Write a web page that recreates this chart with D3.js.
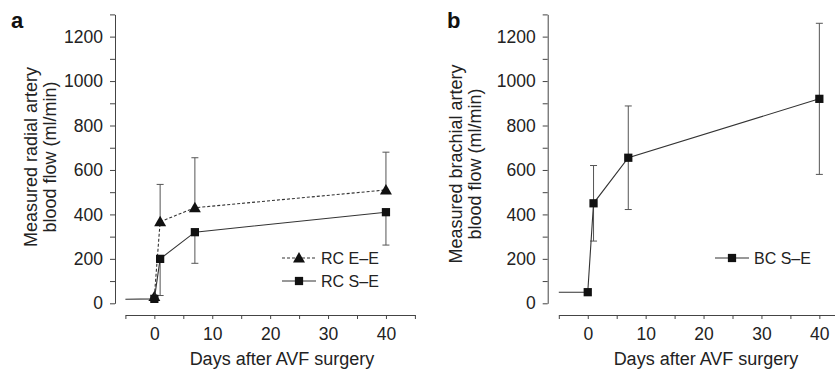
<!DOCTYPE html>
<html>
<head>
<meta charset="utf-8">
<script src="https://cdn.jsdelivr.net/npm/d3@7"></script>
<style>
  body { margin: 0; background: #fff; }
  svg { display: block; font-family: "Liberation Sans", Arial, sans-serif; }
  .axis text { font-size: 17.5px; fill: #222; }
  .axis path, .axis line { stroke: #444; stroke-width: 1; }
</style>
</head>
<body>
<div id="chart"></div>
<script>
// values (ml/min)
const days = [0, 1, 7, 40];
const preDay = -5;

const rcEE = [30, 367, 430, 510];
const rcEEErr = [0, 168, 225, 170];      // upward bars only
const rcSE = [20, 200, 320, 410];
const rcSEErr = [0, 165, 140, 148];      // downward bars only
const rcPre = 18;

const bcSE = [50, 450, 655, 920];
const bcSEErr = [0, 170, 233, 340];      // both directions
const bcPre = 50;

const yTicks = d3.range(0, 1301, 100);
const yLabels = [0, 200, 400, 600, 800, 1000, 1200];
const xTicks = d3.range(-5, 46, 5);
const xLabels = [0, 10, 20, 30, 40];

const W = 835, H = 369;
const svg = d3.select('#chart').append('svg').attr('width', W).attr('height', H);

function drawPanel(opts) {
  const g = svg.append('g');
  const x = d3.scaleLinear().domain([-5, 45]).range(opts.xRange);
  const y = d3.scaleLinear().domain([0, 1300]).range([303.3, 14.4]);

  g.append('g')
    .attr('class', 'axis')
    .attr('transform', `translate(${opts.yAxisX},0)`)
    .call(d3.axisLeft(y).tickValues(yTicks).tickSize(5).tickSizeOuter(0).tickPadding(7)
      .tickFormat(d => yLabels.includes(d) ? d : ''));

  g.append('g')
    .attr('class', 'axis')
    .attr('transform', 'translate(0,315)')
    .call(d3.axisBottom(x).tickValues(xTicks).tickSize(4).tickSizeOuter(0).tickPadding(9)
      .tickFormat(d => xLabels.includes(d) ? d : ''));

  // axis titles
  g.append('text')
    .attr('x', opts.xTitleX).attr('y', 365)
    .attr('text-anchor', 'middle')
    .attr('font-size', 18).attr('fill', '#222')
    .text('Days after AVF surgery');

  const yt = g.append('text')
    .attr('transform', `translate(${opts.yTitleX},${opts.yTitleY}) rotate(-90)`)
    .attr('text-anchor', 'middle')
    .attr('font-size', 18).attr('fill', '#222');
  yt.append('tspan').attr('x', 0).attr('dy', 0).text(opts.yTitle[0]);
  yt.append('tspan').attr('x', 0).attr('dy', 19).text(opts.yTitle[1]);

  g.append('text')
    .attr('x', opts.labelX).attr('y', 28)
    .attr('font-size', 22).attr('font-weight', 'bold').attr('fill', '#111')
    .text(opts.label);

  opts.series.forEach(s => {
    const pts = days.map((d, i) => ({ d: d, v: s.values[i], e: s.err[i] }));
    const linePts = s.pre != null ? [{ d: preDay, v: s.pre }].concat(pts) : pts;

    // error bars
    pts.filter(p => p.e > 0).forEach(p => {
      const lo = s.dir === 'up' ? p.v : p.v - p.e;
      const hi = s.dir === 'down' ? p.v : p.v + p.e;
      g.append('line')
        .attr('x1', x(p.d)).attr('x2', x(p.d))
        .attr('y1', y(lo)).attr('y2', y(hi))
        .attr('stroke', '#555').attr('stroke-width', 1);
      const caps = s.dir === 'up' ? [hi] : s.dir === 'down' ? [lo] : [lo, hi];
      caps.forEach(c => {
        g.append('line')
          .attr('x1', x(p.d) - 3.5).attr('x2', x(p.d) + 3.5)
          .attr('y1', y(c)).attr('y2', y(c))
          .attr('stroke', '#555').attr('stroke-width', 1);
      });
    });

    g.append('path')
      .datum(linePts)
      .attr('fill', 'none')
      .attr('stroke', '#333')
      .attr('stroke-width', 1.1)
      .attr('stroke-dasharray', s.dashed ? '3,2' : null)
      .attr('d', d3.line().x(p => x(p.d)).y(p => y(p.v)));

    const sym = d3.symbol().type(s.shape === 'tri' ? d3.symbolTriangle : d3.symbolSquare)
      .size(s.shape === 'tri' ? 62 : 68);
    g.selectAll(null)
      .data(pts)
      .enter().append('path')
      .attr('transform', p => `translate(${x(p.d)},${y(p.v) + (s.shape === 'tri' ? 1 : 0)})`)
      .attr('d', sym)
      .attr('fill', '#111');

    // legend entry
    const lg = g.append('g').attr('transform', `translate(${s.legend[0]},${s.legend[1]})`);
    lg.append('line')
      .attr('x1', 0).attr('x2', 34)
      .attr('stroke', '#333').attr('stroke-width', 1.1)
      .attr('stroke-dasharray', s.dashed ? '3,2' : null);
    lg.append('path')
      .attr('transform', `translate(17,${s.shape === 'tri' ? 1 : 0})`)
      .attr('d', sym).attr('fill', '#111');
    lg.append('text')
      .attr('x', 39).attr('y', 6)
      .attr('font-size', 16).attr('fill', '#222')
      .text(s.name);
  });
}

drawPanel({
  label: 'a', labelX: 11,
  xRange: [125.4, 414.9], yAxisX: 115,
  xTitleX: 282,
  yTitle: ['Measured radial artery', 'blood flow (ml/min)'],
  yTitleX: 37, yTitleY: 157,
  series: [
    { name: 'RC E\u2013E', values: rcEE, err: rcEEErr, dir: 'up', dashed: true, shape: 'tri', pre: null, legend: [282, 258] },
    { name: 'RC S\u2013E', values: rcSE, err: rcSEErr, dir: 'down', dashed: false, shape: 'sq', pre: rcPre, legend: [282, 281] }
  ]
});

drawPanel({
  label: 'b', labelX: 447,
  xRange: [558.8, 848.3], yAxisX: 547.7,
  xTitleX: 706,
  yTitle: ['Measured brachial artery', 'blood flow (ml/min)'],
  yTitleX: 462, yTitleY: 164,
  series: [
    { name: 'BC S\u2013E', values: bcSE, err: bcSEErr, dir: 'both', dashed: false, shape: 'sq', pre: bcPre, legend: [715, 258] }
  ]
});
</script>
</body>
</html>
